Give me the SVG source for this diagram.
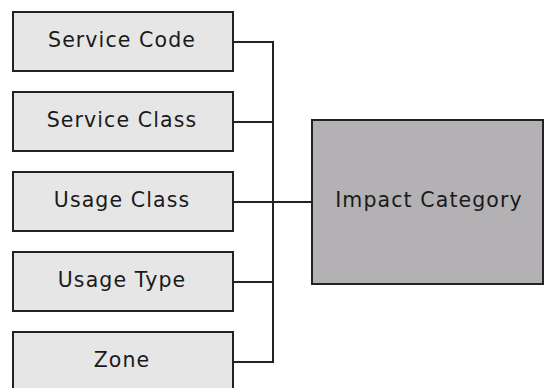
<svg xmlns="http://www.w3.org/2000/svg" width="544" height="388" viewBox="0 0 544 388">
<style>
.box{fill:#e6e6e6;stroke:#222;stroke-width:2}
.big{fill:#b3b1b4;stroke:#222;stroke-width:2}
.lbl{font-family:"DejaVu Sans",Verdana,sans-serif;font-size:20.5px;letter-spacing:1.1px;fill:#1a1a1a;text-anchor:middle}
.con{fill:none;stroke:#222;stroke-width:2}
</style>
<rect width="544" height="388" fill="#fff"/>
<g id="connectors">
<path class="con" d="M233 42H273M233 122H273M233 202H312M233 282H273M233 362H273M273 41V363"/>
</g>
<g id="service-code"><rect class="box" x="13" y="12" width="220" height="59"/><text class="lbl" x="122" y="46.5">Service Code</text></g>
<g id="service-class"><rect class="box" x="13" y="92" width="220" height="59"/><text class="lbl" x="122" y="126.5">Service Class</text></g>
<g id="usage-class"><rect class="box" x="13" y="172" width="220" height="59"/><text class="lbl" x="122" y="206.5">Usage Class</text></g>
<g id="usage-type"><rect class="box" x="13" y="252" width="220" height="59"/><text class="lbl" x="122" y="286.5">Usage Type</text></g>
<g id="zone"><rect class="box" x="13" y="332" width="220" height="62"/><text class="lbl" x="122" y="366.5">Zone</text></g>
<g id="impact-category"><rect class="big" x="312" y="120" width="231" height="164"/><text class="lbl" x="429" y="206.5">Impact Category</text></g>
</svg>
